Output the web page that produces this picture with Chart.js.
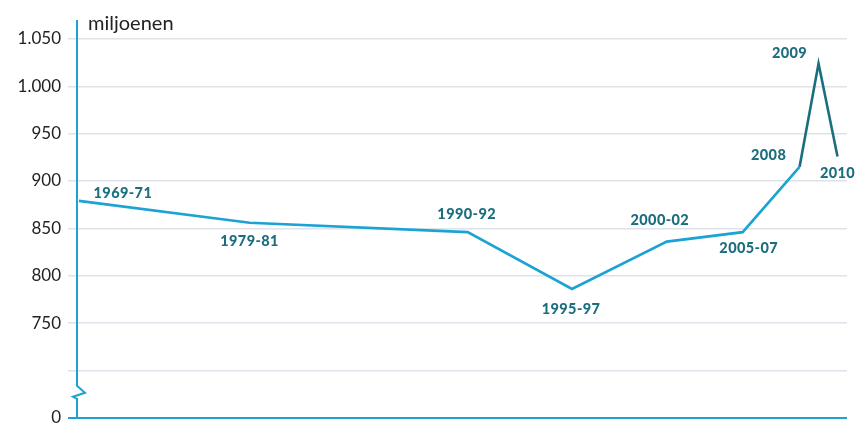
<!DOCTYPE html>
<html>
<head>
<meta charset="utf-8">
<script src="https://cdn.jsdelivr.net/npm/chart.js@4"></script>
<style>
  html, body { margin: 0; padding: 0; background: #fff; overflow: hidden; }
  #wrap { width: 856px; height: 435px; }
</style>
</head>
<body>
<div id="wrap"><canvas id="myChart"></canvas></div>
<script>
// periods as printed on the chart
const periods = ['1969-71', '1979-81', '1990-92', '1995-97', '2000-02', '2005-07', '2008', '2009', '2010'];
// where each period sits on the time axis (years)
const periodYears = [1970, 1979, 1990.5, 1996, 2001, 2005, 2008, 2009, 2010];
// undernourished people, millions
const hungerMillions = [879, 856, 846, 786, 836, 846, 915, 1024, 926];
// y ticks shown; the lowest grid line stands for 0 (broken axis)
const yTicks = [650, 700, 750, 800, 850, 900, 950, 1000, 1050];
const yTickLabels = ['0', '', '750', '800', '850', '900', '950', '1.000', '1.050'];

const LIGHT = '#1ba3d3';
const DARK = '#1a6e7e';
const LABEL = '#1c6e7f';
const GRID = '#dde3e8';

// label offsets around each point
const labelOffsets = [[44, -8], [0, 19], [-1, -18], [-1, 20], [-7, -21], [6, 16], [-31, -11], [-29, -10], [0, 17]];

const annotate = {
    id: 'annotate',
    afterDatasetsDraw(chart) {
        const ctx = chart.ctx;
        const meta = chart.getDatasetMeta(0);
        ctx.save();
        ctx.font = '900 14.5px Lato';
        ctx.letterSpacing = '0.4px';
        ctx.fillStyle = LABEL;
        ctx.textAlign = 'center';
        ctx.textBaseline = 'middle';
        meta.data.forEach((pt, i) => {
            const o = labelOffsets[i];
            ctx.fillText(periods[i], pt.x + o[0], pt.y + o[1]);
        });
        ctx.restore();
    },
    afterDraw(chart) {
        const ctx = chart.ctx;
        const a = chart.chartArea;
        const x = a.left;
        // y axis with break symbol
        ctx.save();
        ctx.strokeStyle = LIGHT;
        ctx.lineWidth = 2;
        ctx.beginPath();
        ctx.moveTo(x, a.top);
        ctx.lineTo(x, a.bottom - 32);
        ctx.lineTo(x + 8, a.bottom - 25);
        ctx.lineTo(x - 4, a.bottom - 21);
        ctx.lineTo(x, a.bottom - 19);
        ctx.lineTo(x, a.bottom);
        ctx.stroke();
        // unit
        ctx.font = '20px Lato';
        ctx.fillStyle = '#222';
        ctx.textAlign = 'left';
        ctx.textBaseline = 'alphabetic';
        ctx.fillText('miljoenen', x + 11, 30);
        ctx.restore();
    }
};

new Chart(document.getElementById('myChart'), {
    type: 'line',
    data: {
        datasets: [{
            data: periodYears.map((y, i) => ({ x: y, y: hungerMillions[i] })),
            borderColor: LIGHT,
            borderWidth: 2.6,
            pointRadius: 0,
            tension: 0,
            segment: {
                borderColor: c => c.p0DataIndex >= 6 ? DARK : LIGHT
            }
        }]
    },
    options: {
        responsive: true,
        maintainAspectRatio: false,
        animation: false,
        layout: { padding: { top: 20, right: 9, bottom: 0, left: 0 } },
        plugins: { legend: { display: false }, tooltip: { enabled: false } },
        scales: {
            x: {
                type: 'linear',
                min: 1969.9,
                max: 2010.5,
                display: false
            },
            y: {
                min: 650,
                max: 1070,
                afterBuildTicks: s => { s.ticks = yTicks.map(v => ({ value: v })); },
                afterFit: s => { s.width = 77; },
                border: { display: false },
                grid: {
                    color: c => c.tick && c.tick.value === 650 ? LIGHT : GRID,
                    lineWidth: c => c.tick && c.tick.value === 650 ? 2 : 1.5,
                    tickLength: 9
                },
                ticks: {
                    padding: 7,
                    color: '#222',
                    font: { family: 'Lato', size: 17 },
                    callback: v => yTickLabels[yTicks.indexOf(v)]
                }
            }
        }
    },
    plugins: [annotate]
});
</script>
</body>
</html>
